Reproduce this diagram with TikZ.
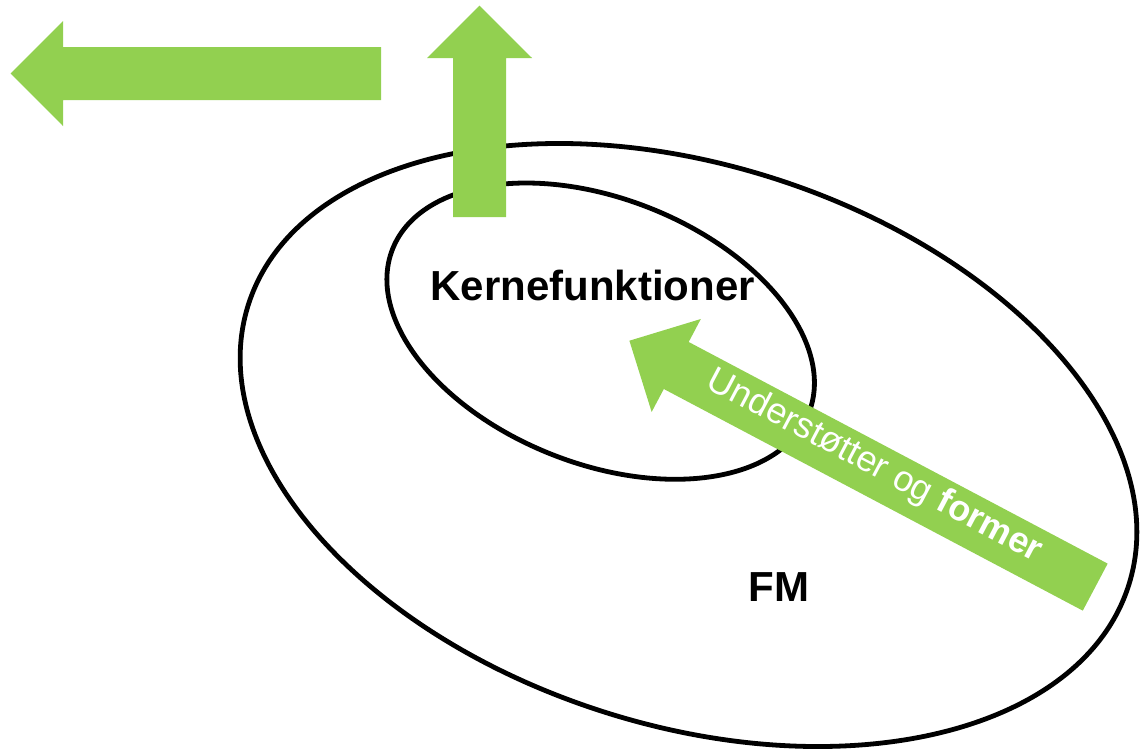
\documentclass[tikz,border=0pt]{standalone}
\usepackage{fontspec}
\setmainfont{Liberation Sans}
\definecolor{arrowgreen}{RGB}{146,208,80}
\begin{document}
\begin{tikzpicture}[x=1pt,y=-1pt,
  ring/.style={draw=black,line width=4.8pt},
  blockarrow/.style={fill=arrowgreen,draw=none},
  biglabel/.style={font=\fontsize{42}{50}\selectfont\bfseries,text=black,inner sep=0pt},
  arrowlabel/.style={font=\fontsize{36}{43}\selectfont,text=white,inner sep=0pt}]
\useasboundingbox (0,0) rectangle (1143,750);
% outer ellipse (FM)
\draw[ring,rotate around={-17.7:(688.5,445)}] (688.5,445) ellipse [x radius=462pt, y radius=280pt];
% inner ellipse (Kernefunktioner)
\draw[ring,rotate around={-21.5:(600.65,331.15)}] (600.65,331.15) ellipse [x radius=223.7pt, y radius=132.6pt];
% left arrow
\fill[blockarrow] (381,47) -- (63,47) -- (63,21) -- (10.7,73.5) -- (63,126) -- (63,100) -- (381,100) -- cycle;
% up arrow
\fill[blockarrow] (453,217) -- (453,58) -- (427,58) -- (479.5,5.7) -- (532,58) -- (506,58) -- (506,217) -- cycle;
% diagonal arrow
\begin{scope}[shift={(629.4,340.7)},rotate=-27.88]
\fill[blockarrow] (0,0) -- (53,-52.6) -- (53,-26.6) -- (527,-26.6) -- (527,26.6) -- (53,26.6) -- (53,52.6) -- cycle;
\end{scope}
% labels
\node[biglabel,anchor=base] (kerne) at (592.6,300) {Kernefunktioner};
\node[biglabel,anchor=base] (fm) at (779,601.7) {FM};
\node[arrowlabel,anchor=base,rotate=-27.88] (support) at (870,474.5) {Understøtter og \textbf{former}};
\end{tikzpicture}
\end{document}
